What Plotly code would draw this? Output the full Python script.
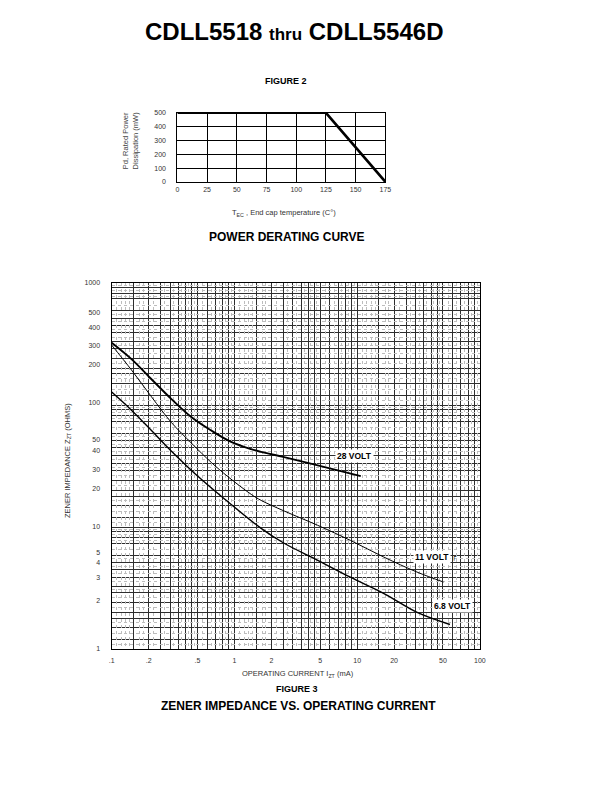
import numpy as np
import plotly.graph_objects as go

W, H = 612, 792

# ---------------- Figure 2 data: power derating ----------------
temp_c = [0, 125, 175]
power_mw = [500, 500, 0]
temp_ticks = [0, 25, 50, 75, 100, 125, 150, 175]
power_ticks = [0, 100, 200, 300, 400, 500]

# ---------------- Figure 3 data: zener impedance vs current ----------------
i_28v = [0.1, 0.145, 0.211, 0.307, 0.445, 0.647, 0.94, 1.37, 1.65, 2.54, 5.34, 10.7]
z_28v = [324, 238, 163, 112, 80, 62, 50, 43.6, 41.4, 37.5, 31.2, 26.2]

i_11v = [0.1, 0.145, 0.211, 0.307, 0.445, 0.647, 0.884, 1.37, 1.65, 2.54, 4.75, 8.84, 16.5, 30.7, 50.5]
z_11v = [310, 194, 117, 72, 49, 34, 26, 18.6, 16.6, 13.6, 10.4, 7.8, 5.7, 4.3, 3.56]

i_68v = [0.1, 0.145, 0.211, 0.307, 0.537, 0.884, 1.65, 2.54, 4.77, 8.8, 16.4, 30.8, 57]
z_68v = [128, 91, 62, 42, 24.7, 16.2, 9.8, 7.4, 5.37, 3.9, 2.88, 2.01, 1.6]

cur_tick_vals = [0.1, 0.2, 0.5, 1, 2, 5, 10, 20, 50, 100]
cur_tick_text = [".1", ".2", ".5", "1", "2", "5", "10", "20", "50", "100"]
# printed label positions as they sit on the chart
imp_tick_vals = [1.02, 2.52, 3.9, 5.1, 6.2, 10.2, 20.8, 29.9, 42.8, 52.6, 106, 213, 310, 433, 568, 1000]
imp_tick_text = ["1", "2", "3", "4", "5", "10", "20", "30", "40", "50", "100", "200", "300", "400", "500", "1000"]

# grid line positions (log paper style)
x_dark_m = [1, 1.5, 2, 2.5, 3, 3.5, 4, 4.5, 5, 6, 7, 8, 9]
x_dark = sorted({round(d * m, 6) for d in [0.1, 1, 10] for m in x_dark_m} | {100.0})
x_dark = [v for v in x_dark if v not in cur_tick_vals]
x_light = sorted({round(d * m, 6) for d in [0.1, 1, 10] for m in [1.1, 1.2, 1.3, 1.4, 1.7, 1.8, 2.2, 2.7, 3.2, 3.7, 4.2, 4.7, 5.5, 6.5, 7.5, 8.5, 9.5]})

y_dark_m = [1, 1.2, 1.5, 1.8, 2, 2.4, 2.9, 3.3, 3.9, 4.5, 5.1, 5.9, 7.4, 8.2, 9.2]
y_dark = sorted({round(d * m, 6) for d in [1, 10, 100] for m in y_dark_m})
y_light = sorted({round(d * m, 6) for d in [1, 10, 100] for m in [1.1, 1.35, 1.65, 2.2, 2.65, 3.1, 3.6, 4.2, 4.8, 5.5, 6.6, 7.8, 8.7, 9.6]})

FONT = "Liberation Sans, Arial, sans-serif"
DARK = "#2e2e2e"
LIGHT = "#bdbdbd"

fig = go.Figure()

fig.add_trace(go.Scatter(x=temp_c, y=power_mw, mode="lines",
                         line=dict(color="black", width=2.6), xaxis="x", yaxis="y",
                         showlegend=False, hoverinfo="skip"))

# invisible trace to carry the light grid overlay axes
fig.add_trace(go.Scatter(x=[0.1, 100], y=[1, 1000], mode="markers", marker=dict(opacity=0),
                         xaxis="x3", yaxis="y3", showlegend=False, hoverinfo="skip"))

for xs, ys, w in [(i_28v, z_28v, 1.9), (i_11v, z_11v, 1.0), (i_68v, z_68v, 1.4)]:
    fig.add_trace(go.Scatter(x=xs, y=ys, mode="lines",
                             line=dict(color="black", width=w, shape="spline", smoothing=1.0),
                             xaxis="x2", yaxis="y2", showlegend=False, hoverinfo="skip"))

# small compensation for the slight shrink seen in the rendered photo
SC = 0.99
CX, CY = 80.0, 433.0


def px(x):
    return (CX + (x - CX) / SC) / W


def py(y):
    return 1 - (CY + (y - CY) / SC) / H


dom_x3 = [px(110), px(480)]
dom_y3 = [py(649), py(283)]

fig.update_layout(
    width=W, height=H, margin=dict(l=0, r=0, t=0, b=0),
    paper_bgcolor="white", plot_bgcolor="white",
    font=dict(family=FONT, color="#222"),
    xaxis=dict(domain=[px(176), px(385)], anchor="y", range=[0, 175],
               tickmode="array", tickvals=temp_ticks, ticktext=[str(t) for t in temp_ticks],
               showgrid=True, gridcolor="black", gridwidth=1,
               showline=True, mirror=True, linecolor="black", linewidth=1,
               ticks="", tickfont=dict(size=7, color="#333"), ticklabelstandoff=1,
               zeroline=False, fixedrange=True),
    yaxis=dict(domain=[py(182), py(113)], anchor="x", range=[0, 500],
               tickmode="array", tickvals=power_ticks, ticktext=[str(t) for t in power_ticks],
               showgrid=True, gridcolor="black", gridwidth=1,
               showline=True, mirror=True, linecolor="black", linewidth=1,
               ticks="", tickfont=dict(size=7, color="#333"), ticklabelstandoff=9,
               zeroline=False, fixedrange=True),
    xaxis2=dict(domain=dom_x3, anchor="y2", type="log", range=[-1, 2],
                tickmode="array", tickvals=cur_tick_vals, ticktext=cur_tick_text,
                showgrid=True, gridcolor=DARK, gridwidth=0.7,
                minor=dict(tickmode="array", tickvals=x_dark, showgrid=True,
                           gridcolor=DARK, gridwidth=0.7, ticks=""),
                showline=True, mirror=True, linecolor="black", linewidth=1.3,
                ticks="", tickfont=dict(size=7, color="#333"), ticklabelstandoff=4,
                zeroline=False, fixedrange=True),
    yaxis2=dict(domain=dom_y3, anchor="x2", type="log", range=[0, 3],
                tickmode="array", tickvals=imp_tick_vals, ticktext=imp_tick_text,
                showgrid=False,
                minor=dict(tickmode="array", tickvals=y_dark, showgrid=True,
                           gridcolor=DARK, gridwidth=0.6, ticks=""),
                showline=True, mirror=True, linecolor="black", linewidth=1.3,
                ticks="", tickfont=dict(size=7, color="#333"), ticklabelstandoff=9,
                zeroline=False, fixedrange=True),
    xaxis3=dict(overlaying="x2", anchor="y3", type="log", range=[-1, 2], domain=dom_x3,
                tickmode="array", tickvals=x_light, showticklabels=False, ticks="",
                showgrid=True, gridcolor=LIGHT, gridwidth=0.6, griddash="dot",
                showline=False, zeroline=False, fixedrange=True),
    yaxis3=dict(overlaying="y2", anchor="x3", type="log", range=[0, 3], domain=dom_y3,
                tickmode="array", tickvals=y_light, showticklabels=False, ticks="",
                showgrid=True, gridcolor=LIGHT, gridwidth=0.6, griddash="dot",
                showline=False, zeroline=False, fixedrange=True),
)

ann = []


def text(x, y, s, size, bold=False, color="black", angle=0, bg=None, family=FONT):
    d = dict(x=px(x), y=py(y), xref="paper", yref="paper", text=("<b>%s</b>" % s) if bold else s,
             showarrow=False, font=dict(size=size, color=color, family=family),
             xanchor="center", yanchor="middle", textangle=angle)
    if bg:
        d["bgcolor"] = bg
        d["borderpad"] = 1
    ann.append(d)


text(293, 32, "CDLL5518 <span style='font-size:17px'>thru</span> CDLL5546D", 24, bold=True)
text(285, 81, "FIGURE 2", 9, bold=True)
text(129, 141, "Pd, Rated Power<br>Dissipation (mW)", 7.5, color="#444", angle=-90)
text(283, 213, "T<sub>EC</sub> , End cap temperature (C°)", 7.5, color="#333")
text(286, 237, "POWER DERATING CURVE", 12, bold=True)

text(66, 460, "ZENER IMPEDANCE Z<sub>ZT</sub> (OHMS)", 7.5, color="#333", angle=-90)
text(297, 674, "OPERATING CURRENT I<sub>ZT</sub> (mA)", 7.5, color="#333")
text(296, 689, "FIGURE 3", 9, bold=True)
text(298, 706, "ZENER IMPEDANCE VS. OPERATING CURRENT", 12, bold=True)

text(354, 456, "28 VOLT", 8.5, bold=True, bg="white")
text(432, 556.5, "11 VOLT", 8.5, bold=True, bg="white")
text(454, 557, "┌", 7, family="DejaVu Sans")
text(452, 605.5, "6.8 VOLT", 8.5, bold=True, bg="white")

fig.update_layout(annotations=ann)

fig.write_html(
    "out.html",
    config={"displayModeBar": False, "responsive": False},
    post_script="document.documentElement.style.margin='0';document.body.style.margin='0';"
                "document.documentElement.style.overflow='hidden';document.body.style.overflow='hidden';",
)
